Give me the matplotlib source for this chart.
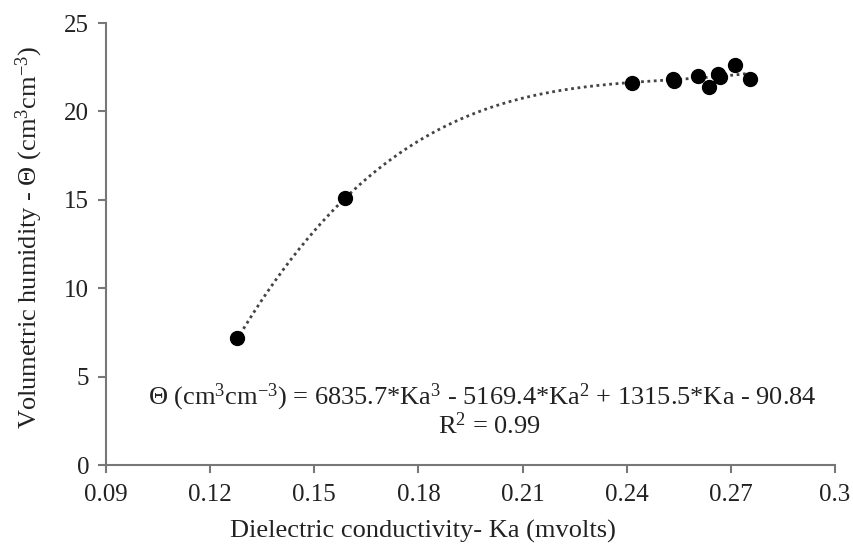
import matplotlib.pyplot as plt
import numpy as np

plt.rcParams['font.family'] = ['Liberation Serif', 'DejaVu Serif']
plt.rcParams['mathtext.fontset'] = 'custom'
plt.rcParams['mathtext.rm'] = 'Liberation Serif'
plt.rcParams['mathtext.it'] = 'Liberation Serif:italic'

# --------------------- Data --------------------- #
ka = [0.1277, 0.1589, 0.2415, 0.2533, 0.2536, 0.2605, 0.2637, 0.2663, 0.2668, 0.2712, 0.2755]
theta = [7.18, 15.1, 21.6, 21.85, 21.7, 22.0, 21.38, 22.1, 21.95, 22.6, 21.83]

# cubic trend coefficients (highest power first)
trend_coef = [6835.7, -5169.4, 1315.5, -90.84]

x_ticks = [0.09, 0.12, 0.15, 0.18, 0.21, 0.24, 0.27, 0.3]
x_tick_labels = ['0.09', '0.12', '0.15', '0.18', '0.21', '0.24', '0.27', '0.3']
y_ticks = [0, 5, 10, 15, 20, 25]

# --------------------- Plot --------------------- #
fig = plt.figure(figsize=(8.54, 5.49), dpi=100)
ax = fig.add_axes([0.1241, 0.153, 0.8536, 0.805])

xs = np.linspace(min(ka), max(ka), 200)
ax.plot(xs, np.polyval(trend_coef, xs), color='#444444', linestyle=(0, (1, 1.3)), linewidth=2)
ax.plot(ka, theta, 'o', color='black', markersize=10)

ax.set_xlim(0.09, 0.3)
ax.set_ylim(0, 25)
ax.set_xticks(x_ticks)
ax.set_xticklabels(x_tick_labels)
ax.set_yticks(y_ticks)

for side in ['top', 'right']:
    ax.spines[side].set_visible(False)
for side in ['left', 'bottom']:
    ax.spines[side].set_color('#777777')
    ax.spines[side].set_linewidth(1.5)
ax.tick_params(colors='#777777', labelcolor='#222222', labelsize=18, length=6, width=1.5)
ax.tick_params(axis='x', pad=8)
ax.tick_params(axis='y', pad=6)

ax.set_xlabel('Dielectric conductivity- Ka (mvolts)', fontsize=19, color='#222222')
ax.xaxis.set_label_coords(0.435, -0.125)
ax.set_ylabel('Volumetric humidity - Θ (cm$^3$cm$^{-3}$)', fontsize=19, color='#222222')
ax.yaxis.set_label_coords(-0.084, 0.515)

ax.text(0.1985, 3.8, 'Θ (cm$^3$cm$^{-3}$) = 6835.7*Ka$^3$ - 5169.4*Ka$^2$ + 1315.5*Ka - 90.84',
        fontsize=19, ha='center', va='center', color='#222222')
ax.text(0.2005, 2.2, 'R$^2$ = 0.99', fontsize=19, ha='center', va='center', color='#222222')

plt.savefig('out.png', dpi=100)
plt.close()
